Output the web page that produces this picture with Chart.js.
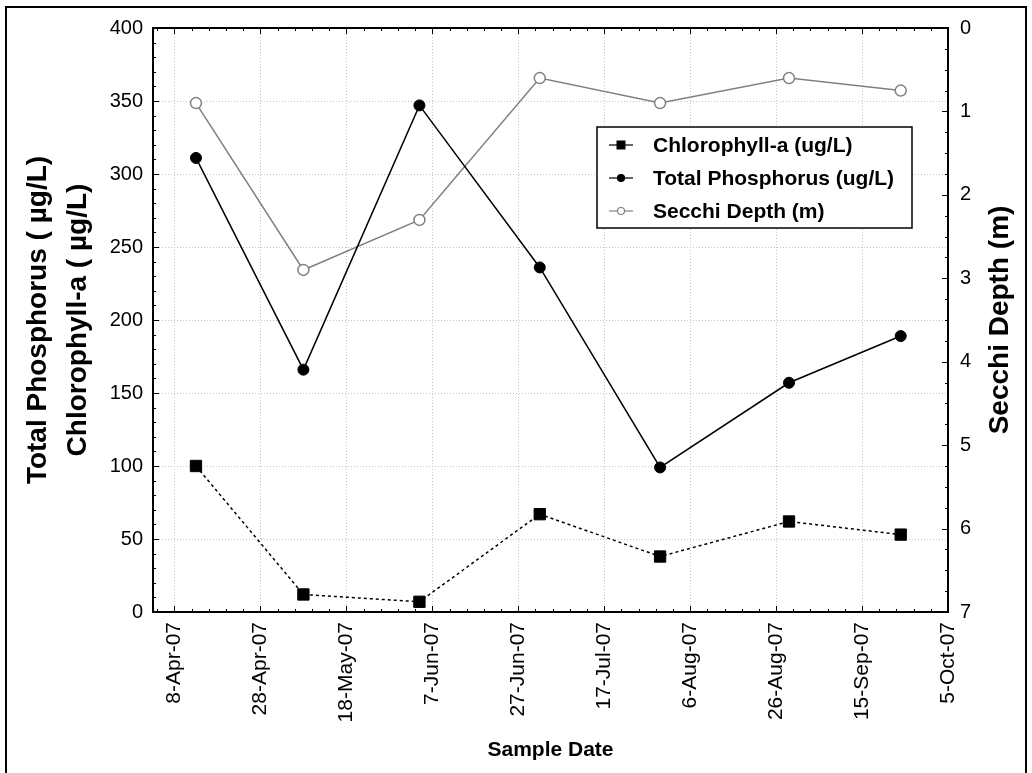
<!DOCTYPE html>
<html>
<head>
<meta charset="utf-8">
<script src="https://cdn.jsdelivr.net/npm/chart.js@4.4.1/dist/chart.umd.min.js"></script>
<style>
  body { margin: 0; background: #fff; }
  #wrap { width: 1032px; height: 773px; }
</style>
</head>
<body>
<div id="wrap"><canvas id="lakeChart" width="1032" height="773"></canvas></div>
<script>
// sample data
const sampleDates = ['2007-04-13', '2007-05-08', '2007-06-04', '2007-07-02', '2007-07-30', '2007-08-29', '2007-09-24'];
const chlorophyll = [100, 12, 7, 67, 38, 62, 53];
const totalPhosphorus = [311, 166, 347, 236, 99, 157, 189];
const secchiDepth = [0.9, 2.9, 2.3, 0.6, 0.9, 0.6, 0.75];

const xStartDate = '2007-04-03';
const xTickDates = ['2007-04-08', '2007-04-28', '2007-05-18', '2007-06-07', '2007-06-27',
                    '2007-07-17', '2007-08-06', '2007-08-26', '2007-09-15', '2007-10-05'];
const xTickLabels = ['8-Apr-07', '28-Apr-07', '18-May-07', '7-Jun-07', '27-Jun-07',
                     '17-Jul-07', '6-Aug-07', '26-Aug-07', '15-Sep-07', '5-Oct-07'];
const seriesNames = ['Chlorophyll-a (ug/L)', 'Total Phosphorus (ug/L)', 'Secchi Depth (m)'];
const rightAxisTitle = 'Secchi Depth (m)';

const FONT = 'Arial, "Liberation Sans", sans-serif';

function dayNum(s) {
    const p = s.split('-').map(Number);
    return Date.UTC(p[0], p[1] - 1, p[2]) / 86400000;
}

function toPoints(values) {
    return values.map((v, i) => ({ x: dayNum(sampleDates[i]), y: v }));
}

const tickDays = xTickDates.map(dayNum);

// outer frame of the figure
const framePlugin = {
    id: 'frame',
    beforeDraw(chart) {
        const ctx = chart.ctx;
        ctx.save();
        ctx.fillStyle = '#fff';
        ctx.fillRect(0, 0, chart.width, chart.height);
        ctx.strokeStyle = '#000';
        ctx.lineWidth = 2;
        ctx.beginPath();
        ctx.moveTo(6, 780);
        ctx.lineTo(6, 7);
        ctx.lineTo(1026, 7);
        ctx.lineTo(1026, 780);
        ctx.stroke();
        ctx.restore();
    }
};

// inward tick marks (major + minor), plot box, right title reading upward
const tickPlugin = {
    id: 'tickMarks',
    afterDraw(chart) {
        const { ctx, chartArea: a, scales } = chart;
        ctx.save();
        ctx.strokeStyle = '#000';
        ctx.lineWidth = 1;
        ctx.beginPath();
        const xs = scales.x;
        const first = tickDays[0];
        let v = first - 4 * Math.floor((first - xs.min) / 4);
        for (; v <= xs.max + 0.01; v += 4) {
            const px = Math.round(xs.getPixelForValue(v)) + 0.5;
            const len = ((v - first) % 20 === 0) ? 6 : 3;
            ctx.moveTo(px, a.bottom);
            ctx.lineTo(px, a.bottom - len);
            ctx.moveTo(px, a.top);
            ctx.lineTo(px, a.top + len);
        }
        const yl = scales.y;
        for (let t = 0; t <= 400; t += 10) {
            const py = Math.round(yl.getPixelForValue(t)) + 0.5;
            const len = (t % 50 === 0) ? 6 : 3;
            ctx.moveTo(a.left, py);
            ctx.lineTo(a.left + len, py);
        }
        const yr = scales.y2;
        for (let t = 0; t <= 7; t += 0.25) {
            const py = Math.round(yr.getPixelForValue(t)) + 0.5;
            const len = (t % 1 === 0) ? 6 : 3;
            ctx.moveTo(a.right, py);
            ctx.lineTo(a.right - len, py);
        }
        ctx.stroke();
        ctx.lineWidth = 2;
        ctx.strokeRect(a.left, a.top, a.right - a.left, a.bottom - a.top);

        ctx.translate(yr.right - 32, (a.top + a.bottom) / 2);
        ctx.rotate(-Math.PI / 2);
        ctx.fillStyle = '#000';
        ctx.font = 'bold 28px ' + FONT;
        ctx.textAlign = 'center';
        ctx.textBaseline = 'middle';
        ctx.fillText(rightAxisTitle, 0, 0);
        ctx.restore();
    }
};

// legend box inside plot
const boxLegend = {
    id: 'boxLegend',
    afterDraw(chart) {
        const ctx = chart.ctx;
        const a = chart.chartArea;
        const x0 = a.left + 444, y0 = a.top + 99, w = 315, h = 101;
        ctx.save();
        ctx.fillStyle = '#fff';
        ctx.fillRect(x0, y0, w, h);
        ctx.strokeStyle = '#000';
        ctx.lineWidth = 1.5;
        ctx.strokeRect(x0, y0, w, h);
        chart.data.datasets.forEach((ds, i) => {
            const y = y0 + 18 + i * 33;
            ctx.strokeStyle = ds.borderColor;
            ctx.lineWidth = 1.2;
            ctx.setLineDash([]);
            ctx.beginPath();
            ctx.moveTo(x0 + 12, y);
            ctx.lineTo(x0 + 36, y);
            ctx.stroke();
            ctx.fillStyle = ds.pointBackgroundColor;
            ctx.strokeStyle = ds.pointBorderColor;
            Chart.helpers.drawPoint(ctx, {
                pointStyle: ds.pointStyle,
                radius: ds.pointStyle === 'rect' ? 5.5 : 3.5,
                rotation: 0,
                borderWidth: 1
            }, x0 + 24, y);
            ctx.fillStyle = '#000';
            ctx.font = 'bold 21px ' + FONT;
            ctx.textBaseline = 'middle';
            ctx.textAlign = 'left';
            ctx.fillText(seriesNames[i], x0 + 56, y + 1);
        });
        ctx.restore();
    }
};

new Chart(document.getElementById('lakeChart'), {
    type: 'line',
    data: {
        datasets: [
            {
                label: seriesNames[0],
                data: toPoints(chlorophyll),
                yAxisID: 'y',
                borderColor: '#000',
                borderWidth: 1.5,
                borderDash: [3, 3],
                pointStyle: 'rect',
                pointRadius: 8,
                pointBackgroundColor: '#000',
                pointBorderColor: '#000',
                pointBorderWidth: 1,
                tension: 0
            },
            {
                label: seriesNames[1],
                data: toPoints(totalPhosphorus),
                yAxisID: 'y',
                borderColor: '#000',
                borderWidth: 1.5,
                pointStyle: 'circle',
                pointRadius: 5.5,
                pointBackgroundColor: '#000',
                pointBorderColor: '#000',
                pointBorderWidth: 1,
                tension: 0
            },
            {
                label: seriesNames[2],
                data: toPoints(secchiDepth),
                yAxisID: 'y2',
                borderColor: '#808080',
                borderWidth: 1.5,
                pointStyle: 'circle',
                pointRadius: 5.5,
                pointBackgroundColor: '#fff',
                pointBorderColor: '#808080',
                pointBorderWidth: 1.5,
                tension: 0
            }
        ]
    },
    options: {
        responsive: false,
        animation: false,
        devicePixelRatio: 1,
        layout: { padding: { top: 28, left: 0, right: 0, bottom: 0 } },
        plugins: {
            legend: { display: false },
            tooltip: { enabled: false }
        },
        scales: {
            x: {
                type: 'linear',
                min: dayNum(xStartDate),
                max: tickDays[tickDays.length - 1],
                afterBuildTicks(scale) {
                    scale.ticks = tickDays.map(d => ({ value: d }));
                },
                afterFit(scale) { scale.height = 161; },
                ticks: {
                    autoSkip: false,
                    minRotation: 90,
                    maxRotation: 90,
                    padding: 10,
                    color: '#000',
                    font: { family: FONT, size: 21 },
                    callback(value) {
                        const i = tickDays.indexOf(value);
                        return i >= 0 ? xTickLabels[i] : '';
                    }
                },
                grid: { color: '#c4c4c4', lineWidth: 1, drawTicks: false },
                border: { display: false, dash: [1, 2] },
                title: {
                    display: true,
                    text: 'Sample Date',
                    color: '#000',
                    font: { family: FONT, size: 21, weight: 'bold' },
                    padding: { top: 0, bottom: 10 }
                }
            },
            y: {
                position: 'left',
                min: 0,
                max: 400,
                afterFit(scale) { scale.width = 153; },
                ticks: {
                    stepSize: 50,
                    padding: 10,
                    color: '#000',
                    font: { family: FONT, size: 20 }
                },
                grid: { color: '#c4c4c4', lineWidth: 1, drawTicks: false },
                border: { display: false, dash: [1, 2] },
                title: {
                    display: true,
                    text: ['Total Phosphorus ( \u00b5g/L)', 'Chlorophyll-a ( \u00b5g/L)'],
                    color: '#000',
                    font: { family: FONT, size: 28, weight: 'bold', lineHeight: 1.43 },
                    padding: { top: 18, bottom: 0 }
                }
            },
            y2: {
                position: 'right',
                min: 0,
                max: 7,
                reverse: true,
                afterFit(scale) { scale.width = 84; },
                ticks: {
                    stepSize: 1,
                    padding: 12,
                    color: '#000',
                    font: { family: FONT, size: 20 }
                },
                grid: { display: false, drawTicks: false },
                border: { display: false },
                title: { display: false }
            }
        }
    },
    plugins: [framePlugin, tickPlugin, boxLegend]
});
</script>
</body>
</html>
